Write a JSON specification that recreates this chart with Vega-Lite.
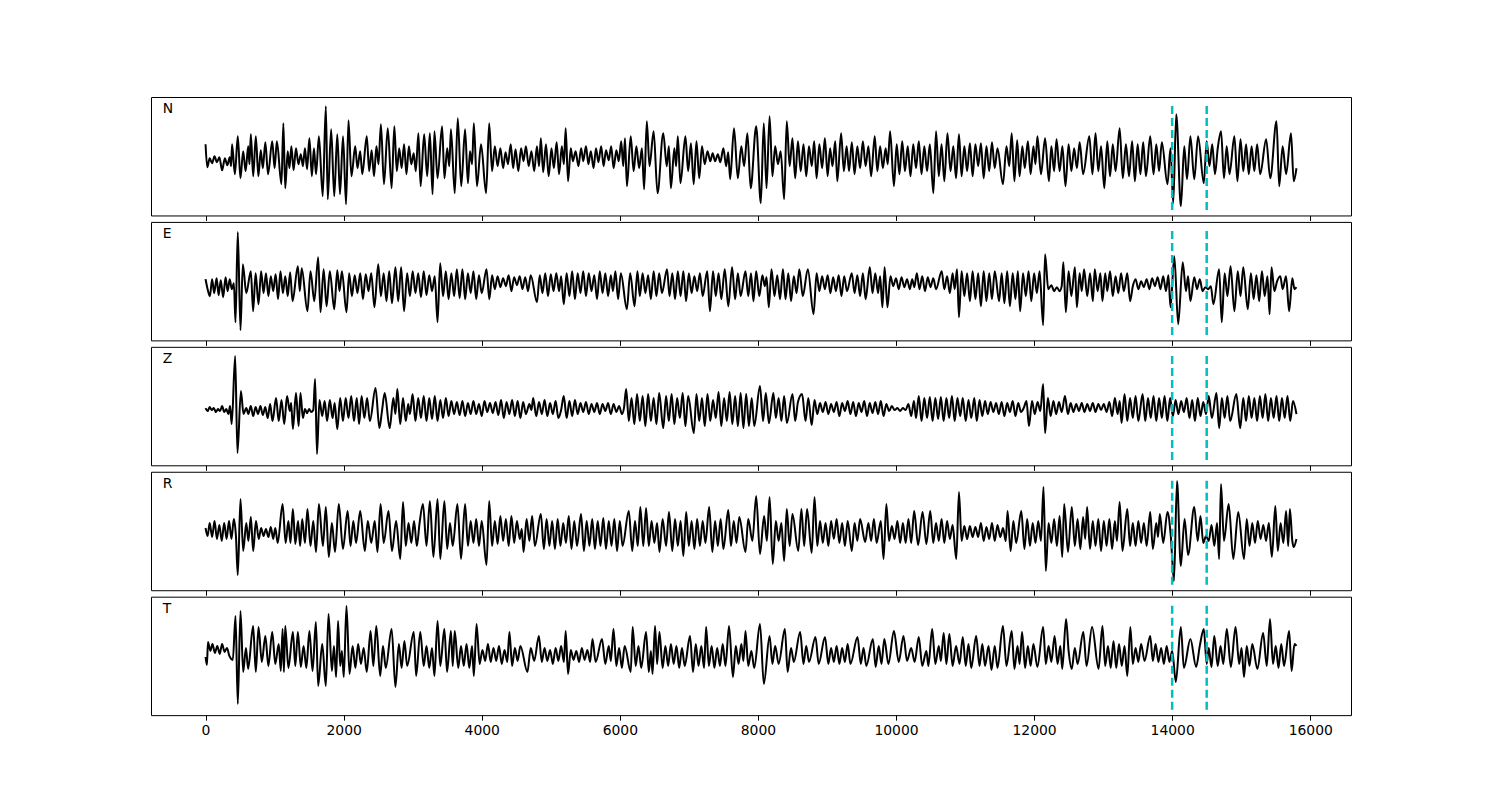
{
"$schema":"https://vega.github.io/schema/vega-lite/v6.json",
"padding":{"left":150,"top":96,"right":10,"bottom":10},
"background":"white",
"bounds":"flush",
"spacing":5.92,
"config":{"view":{"stroke":"black","strokeWidth":1},
"axisX":{"grid":false,"domain":false,"tickColor":"black","tickSize":5,"tickWidth":1,"labelFont":"DejaVu Sans","labelFontSize":13.9,"labelColor":"black","labelPadding":3,"labelFlush":false,"title":null}},
"datasets":{
"m":[{"v":14000},{"v":14500}],
"N":[{"x":0,"y":12},{"x":25,"y":-11},{"x":60,"y":-2},{"x":95,"y":-7},{"x":130,"y":0},{"x":165,"y":-6},{"x":200,"y":-1},{"x":240,"y":-14},{"x":280,"y":-2},{"x":315,"y":-9},{"x":350,"y":-1},{"x":370,"y":-10},{"x":384,"y":12},{"x":425,"y":-18},{"x":467,"y":20},{"x":505,"y":-22},{"x":545,"y":5},{"x":580,"y":-15},{"x":618,"y":10},{"x":636,"y":-8},{"x":656,"y":22},{"x":690,"y":-20},{"x":728,"y":20},{"x":765,"y":-20},{"x":800,"y":6},{"x":830,"y":-12},{"x":866,"y":14},{"x":905,"y":-18},{"x":966,"y":15},{"x":1000,"y":-12},{"x":1033,"y":15},{"x":1099,"y":-28},{"x":1127,"y":33},{"x":1154,"y":-32},{"x":1190,"y":5},{"x":1215,"y":-12},{"x":1243,"y":10},{"x":1275,"y":-14},{"x":1310,"y":8},{"x":1345,"y":-8},{"x":1380,"y":2},{"x":1410,"y":-10},{"x":1440,"y":8},{"x":1470,"y":-13},{"x":1504,"y":18},{"x":1540,"y":-20},{"x":1570,"y":8},{"x":1600,"y":-18},{"x":1642,"y":20},{"x":1697,"y":-40},{"x":1742,"y":50},{"x":1770,"y":-43},{"x":1819,"y":27},{"x":1864,"y":-40},{"x":1908,"y":22},{"x":1947,"y":-38},{"x":1991,"y":20},{"x":2035,"y":-48},{"x":2070,"y":36},{"x":2113,"y":-20},{"x":2168,"y":10},{"x":2200,"y":-12},{"x":2240,"y":5},{"x":2270,"y":-18},{"x":2335,"y":20},{"x":2370,"y":-15},{"x":2405,"y":6},{"x":2440,"y":-20},{"x":2475,"y":10},{"x":2505,"y":-8},{"x":2540,"y":32},{"x":2584,"y":-28},{"x":2639,"y":28},{"x":2695,"y":-32},{"x":2734,"y":30},{"x":2770,"y":-15},{"x":2805,"y":8},{"x":2840,"y":-12},{"x":2875,"y":12},{"x":2910,"y":-18},{"x":2945,"y":10},{"x":2980,"y":-8},{"x":3015,"y":3},{"x":3045,"y":-15},{"x":3083,"y":23},{"x":3115,"y":-30},{"x":3166,"y":22},{"x":3210,"y":-20},{"x":3249,"y":23},{"x":3288,"y":-38},{"x":3315,"y":25},{"x":3360,"y":-22},{"x":3426,"y":30},{"x":3460,"y":-22},{"x":3500,"y":8},{"x":3530,"y":-10},{"x":3554,"y":27},{"x":3609,"y":-37},{"x":3653,"y":38},{"x":3703,"y":-30},{"x":3759,"y":27},{"x":3800,"y":-27},{"x":3830,"y":5},{"x":3860,"y":-8},{"x":3886,"y":33},{"x":3931,"y":-30},{"x":3990,"y":12},{"x":4063,"y":-37},{"x":4108,"y":33},{"x":4150,"y":-15},{"x":4190,"y":10},{"x":4230,"y":-10},{"x":4270,"y":8},{"x":4310,"y":-12},{"x":4345,"y":4},{"x":4380,"y":-8},{"x":4420,"y":12},{"x":4455,"y":-12},{"x":4490,"y":7},{"x":4530,"y":-15},{"x":4570,"y":8},{"x":4605,"y":-5},{"x":4640,"y":10},{"x":4680,"y":-10},{"x":4720,"y":5},{"x":4760,"y":-15},{"x":4800,"y":10},{"x":4830,"y":-10},{"x":4856,"y":18},{"x":4890,"y":-16},{"x":4930,"y":12},{"x":4970,"y":-20},{"x":5010,"y":8},{"x":5045,"y":-12},{"x":5085,"y":14},{"x":5120,"y":-18},{"x":5160,"y":10},{"x":5190,"y":-8},{"x":5216,"y":28},{"x":5250,"y":-25},{"x":5290,"y":8},{"x":5320,"y":-5},{"x":5360,"y":5},{"x":5400,"y":-10},{"x":5440,"y":8},{"x":5470,"y":-5},{"x":5510,"y":10},{"x":5545,"y":-8},{"x":5580,"y":5},{"x":5620,"y":-12},{"x":5655,"y":8},{"x":5690,"y":-6},{"x":5730,"y":10},{"x":5765,"y":-10},{"x":5800,"y":6},{"x":5840,"y":-4},{"x":5875,"y":10},{"x":5910,"y":-12},{"x":5950,"y":6},{"x":5985,"y":-5},{"x":6020,"y":15},{"x":6050,"y":-10},{"x":6075,"y":18},{"x":6103,"y":-30},{"x":6158,"y":20},{"x":6200,"y":-15},{"x":6240,"y":10},{"x":6280,"y":-12},{"x":6320,"y":8},{"x":6352,"y":-33},{"x":6391,"y":35},{"x":6430,"y":-10},{"x":6490,"y":25},{"x":6546,"y":-37},{"x":6629,"y":23},{"x":6680,"y":-10},{"x":6710,"y":10},{"x":6740,"y":-32},{"x":6790,"y":8},{"x":6815,"y":-10},{"x":6840,"y":20},{"x":6878,"y":-27},{"x":6950,"y":20},{"x":6990,"y":-15},{"x":7030,"y":13},{"x":7070,"y":-28},{"x":7110,"y":15},{"x":7150,"y":-22},{"x":7190,"y":10},{"x":7230,"y":-8},{"x":7270,"y":5},{"x":7310,"y":-5},{"x":7345,"y":3},{"x":7380,"y":-5},{"x":7420,"y":2},{"x":7455,"y":-6},{"x":7500,"y":8},{"x":7540,"y":-10},{"x":7570,"y":4},{"x":7598,"y":-23},{"x":7654,"y":28},{"x":7709,"y":-22},{"x":7760,"y":10},{"x":7800,"y":-10},{"x":7848,"y":23},{"x":7895,"y":-32},{"x":7975,"y":30},{"x":8042,"y":-47},{"x":8085,"y":33},{"x":8125,"y":-32},{"x":8169,"y":40},{"x":8210,"y":-20},{"x":8250,"y":10},{"x":8290,"y":-8},{"x":8330,"y":5},{"x":8380,"y":-43},{"x":8418,"y":35},{"x":8460,"y":-10},{"x":8500,"y":18},{"x":8540,"y":-22},{"x":8580,"y":15},{"x":8620,"y":-15},{"x":8660,"y":12},{"x":8700,"y":-20},{"x":8740,"y":10},{"x":8780,"y":-10},{"x":8815,"y":15},{"x":8850,"y":-22},{"x":8890,"y":12},{"x":8930,"y":-12},{"x":8970,"y":18},{"x":9010,"y":-20},{"x":9045,"y":8},{"x":9080,"y":-10},{"x":9120,"y":15},{"x":9150,"y":-25},{"x":9205,"y":23},{"x":9245,"y":-15},{"x":9285,"y":10},{"x":9320,"y":-15},{"x":9360,"y":14},{"x":9400,"y":-18},{"x":9440,"y":10},{"x":9480,"y":-12},{"x":9520,"y":15},{"x":9560,"y":-10},{"x":9600,"y":10},{"x":9640,"y":-20},{"x":9692,"y":20},{"x":9730,"y":-15},{"x":9770,"y":10},{"x":9810,"y":-12},{"x":9850,"y":8},{"x":9880,"y":-8},{"x":9915,"y":25},{"x":9970,"y":-30},{"x":10010,"y":12},{"x":10050,"y":-18},{"x":10090,"y":15},{"x":10130,"y":-15},{"x":10170,"y":10},{"x":10210,"y":-20},{"x":10250,"y":12},{"x":10290,"y":-12},{"x":10330,"y":15},{"x":10370,"y":-18},{"x":10410,"y":10},{"x":10450,"y":-15},{"x":10490,"y":12},{"x":10541,"y":-37},{"x":10580,"y":25},{"x":10620,"y":-20},{"x":10660,"y":12},{"x":10700,"y":-25},{"x":10745,"y":23},{"x":10790,"y":-15},{"x":10830,"y":10},{"x":10870,"y":-22},{"x":10912,"y":22},{"x":10950,"y":-20},{"x":10990,"y":10},{"x":11030,"y":-15},{"x":11070,"y":13},{"x":11110,"y":-20},{"x":11150,"y":12},{"x":11190,"y":-10},{"x":11230,"y":13},{"x":11270,"y":-22},{"x":11310,"y":10},{"x":11350,"y":-15},{"x":11390,"y":14},{"x":11430,"y":-12},{"x":11470,"y":8},{"x":11549,"y":-28},{"x":11600,"y":10},{"x":11640,"y":-10},{"x":11676,"y":23},{"x":11715,"y":-25},{"x":11755,"y":16},{"x":11790,"y":-20},{"x":11830,"y":10},{"x":11865,"y":-12},{"x":11910,"y":15},{"x":11950,"y":-18},{"x":11990,"y":10},{"x":12020,"y":-8},{"x":12048,"y":20},{"x":12100,"y":-18},{"x":12159,"y":18},{"x":12215,"y":-25},{"x":12250,"y":10},{"x":12290,"y":-15},{"x":12325,"y":17},{"x":12370,"y":-15},{"x":12410,"y":10},{"x":12455,"y":-30},{"x":12500,"y":12},{"x":12540,"y":-15},{"x":12580,"y":8},{"x":12620,"y":-12},{"x":12660,"y":14},{"x":12710,"y":-18},{"x":12800,"y":20},{"x":12845,"y":-18},{"x":12890,"y":23},{"x":12930,"y":-15},{"x":12970,"y":10},{"x":13017,"y":-32},{"x":13060,"y":15},{"x":13100,"y":-20},{"x":13140,"y":12},{"x":13180,"y":-15},{"x":13239,"y":28},{"x":13285,"y":-22},{"x":13330,"y":12},{"x":13375,"y":-20},{"x":13420,"y":15},{"x":13460,"y":-25},{"x":13500,"y":12},{"x":13540,"y":-18},{"x":13580,"y":14},{"x":13620,"y":-20},{"x":13682,"y":20},{"x":13730,"y":-18},{"x":13770,"y":12},{"x":13810,"y":-15},{"x":13850,"y":14},{"x":13932,"y":-28},{"x":13975,"y":8},{"x":14015,"y":-47},{"x":14059,"y":42},{"x":14126,"y":-50},{"x":14175,"y":10},{"x":14215,"y":-23},{"x":14264,"y":20},{"x":14320,"y":-23},{"x":14375,"y":20},{"x":14458,"y":-27},{"x":14500,"y":15},{"x":14540,"y":-10},{"x":14580,"y":12},{"x":14620,"y":-18},{"x":14660,"y":8},{"x":14708,"y":25},{"x":14750,"y":-22},{"x":14790,"y":10},{"x":14830,"y":-18},{"x":14901,"y":20},{"x":14945,"y":-25},{"x":14990,"y":17},{"x":15030,"y":-15},{"x":15070,"y":12},{"x":15110,"y":-18},{"x":15150,"y":10},{"x":15190,"y":-15},{"x":15230,"y":12},{"x":15275,"y":-18},{"x":15361,"y":17},{"x":15420,"y":-22},{"x":15511,"y":35},{"x":15550,"y":-30},{"x":15600,"y":10},{"x":15650,"y":-18},{"x":15721,"y":23},{"x":15760,"y":-25},{"x":15800,"y":-12}],
"E":[{"x":0,"y":2},{"x":30,"y":-8},{"x":63,"y":-15},{"x":95,"y":2},{"x":125,"y":-12},{"x":160,"y":3},{"x":190,"y":-14},{"x":220,"y":1},{"x":255,"y":-16},{"x":290,"y":4},{"x":320,"y":-10},{"x":350,"y":2},{"x":380,"y":-8},{"x":410,"y":-2},{"x":434,"y":-41},{"x":467,"y":49},{"x":506,"y":-49},{"x":540,"y":17},{"x":590,"y":-12},{"x":656,"y":10},{"x":689,"y":-30},{"x":725,"y":8},{"x":767,"y":-23},{"x":805,"y":10},{"x":840,"y":-12},{"x":875,"y":8},{"x":910,"y":-15},{"x":945,"y":5},{"x":980,"y":-10},{"x":1015,"y":7},{"x":1050,"y":-18},{"x":1085,"y":10},{"x":1120,"y":-12},{"x":1155,"y":5},{"x":1190,"y":-15},{"x":1225,"y":9},{"x":1260,"y":-20},{"x":1337,"y":15},{"x":1365,"y":-10},{"x":1393,"y":13},{"x":1476,"y":-30},{"x":1520,"y":10},{"x":1575,"y":-20},{"x":1631,"y":24},{"x":1665,"y":-31},{"x":1710,"y":12},{"x":1753,"y":-25},{"x":1800,"y":10},{"x":1864,"y":-28},{"x":1908,"y":11},{"x":1940,"y":-10},{"x":1975,"y":10},{"x":2041,"y":-31},{"x":2080,"y":8},{"x":2120,"y":-15},{"x":2160,"y":6},{"x":2200,"y":-12},{"x":2240,"y":8},{"x":2280,"y":-18},{"x":2320,"y":7},{"x":2360,"y":-10},{"x":2400,"y":8},{"x":2446,"y":-26},{"x":2501,"y":17},{"x":2540,"y":-15},{"x":2580,"y":8},{"x":2620,"y":-20},{"x":2660,"y":10},{"x":2700,"y":-22},{"x":2750,"y":14},{"x":2790,"y":-20},{"x":2833,"y":14},{"x":2875,"y":-30},{"x":2920,"y":8},{"x":2960,"y":-15},{"x":3000,"y":10},{"x":3040,"y":-12},{"x":3080,"y":8},{"x":3120,"y":-16},{"x":3160,"y":10},{"x":3200,"y":-14},{"x":3240,"y":6},{"x":3280,"y":-10},{"x":3320,"y":5},{"x":3360,"y":-41},{"x":3398,"y":18},{"x":3440,"y":-15},{"x":3480,"y":10},{"x":3520,"y":-18},{"x":3560,"y":8},{"x":3600,"y":-15},{"x":3640,"y":12},{"x":3680,"y":-17},{"x":3720,"y":12},{"x":3760,"y":-18},{"x":3800,"y":8},{"x":3840,"y":-12},{"x":3880,"y":10},{"x":3920,"y":-18},{"x":3960,"y":6},{"x":4000,"y":-12},{"x":4069,"y":12},{"x":4110,"y":-18},{"x":4150,"y":6},{"x":4190,"y":-8},{"x":4230,"y":5},{"x":4270,"y":-6},{"x":4310,"y":3},{"x":4350,"y":-5},{"x":4390,"y":6},{"x":4430,"y":-10},{"x":4470,"y":4},{"x":4510,"y":-4},{"x":4550,"y":5},{"x":4590,"y":-8},{"x":4630,"y":4},{"x":4670,"y":-10},{"x":4710,"y":6},{"x":4800,"y":-21},{"x":4840,"y":6},{"x":4880,"y":-12},{"x":4920,"y":8},{"x":4960,"y":-15},{"x":5000,"y":7},{"x":5040,"y":-10},{"x":5080,"y":8},{"x":5120,"y":-10},{"x":5150,"y":5},{"x":5188,"y":-23},{"x":5230,"y":8},{"x":5270,"y":-15},{"x":5310,"y":10},{"x":5350,"y":-18},{"x":5390,"y":8},{"x":5430,"y":-12},{"x":5470,"y":10},{"x":5510,"y":-15},{"x":5550,"y":8},{"x":5590,"y":-10},{"x":5630,"y":6},{"x":5670,"y":-18},{"x":5710,"y":10},{"x":5750,"y":-12},{"x":5790,"y":8},{"x":5830,"y":-15},{"x":5870,"y":6},{"x":5900,"y":-10},{"x":5936,"y":10},{"x":5975,"y":-18},{"x":6015,"y":8},{"x":6102,"y":-28},{"x":6150,"y":8},{"x":6213,"y":-25},{"x":6255,"y":10},{"x":6290,"y":-15},{"x":6330,"y":8},{"x":6370,"y":-12},{"x":6410,"y":6},{"x":6450,"y":-18},{"x":6490,"y":10},{"x":6530,"y":-15},{"x":6570,"y":8},{"x":6610,"y":-12},{"x":6684,"y":12},{"x":6720,"y":-15},{"x":6760,"y":8},{"x":6800,"y":-18},{"x":6840,"y":10},{"x":6880,"y":-15},{"x":6920,"y":10},{"x":6960,"y":-20},{"x":7000,"y":8},{"x":7040,"y":-12},{"x":7080,"y":5},{"x":7120,"y":-10},{"x":7160,"y":8},{"x":7200,"y":-15},{"x":7266,"y":10},{"x":7305,"y":-30},{"x":7350,"y":10},{"x":7390,"y":-15},{"x":7430,"y":8},{"x":7470,"y":-18},{"x":7520,"y":12},{"x":7571,"y":-25},{"x":7626,"y":14},{"x":7670,"y":-18},{"x":7710,"y":8},{"x":7750,"y":-15},{"x":7820,"y":10},{"x":7860,"y":-15},{"x":7900,"y":8},{"x":7935,"y":-20},{"x":7975,"y":10},{"x":8020,"y":-15},{"x":8065,"y":6},{"x":8100,"y":-5},{"x":8125,"y":4},{"x":8158,"y":-26},{"x":8197,"y":12},{"x":8240,"y":-15},{"x":8280,"y":6},{"x":8320,"y":-18},{"x":8363,"y":12},{"x":8400,"y":-18},{"x":8440,"y":8},{"x":8480,"y":-20},{"x":8520,"y":5},{"x":8560,"y":-12},{"x":8600,"y":12},{"x":8650,"y":-15},{"x":8723,"y":12},{"x":8806,"y":-33},{"x":8850,"y":8},{"x":8890,"y":-10},{"x":8930,"y":5},{"x":8970,"y":-8},{"x":9010,"y":6},{"x":9050,"y":-12},{"x":9090,"y":4},{"x":9130,"y":-10},{"x":9170,"y":6},{"x":9210,"y":-15},{"x":9250,"y":5},{"x":9290,"y":-10},{"x":9360,"y":8},{"x":9400,"y":-12},{"x":9440,"y":6},{"x":9480,"y":-15},{"x":9520,"y":8},{"x":9560,"y":-18},{"x":9621,"y":14},{"x":9660,"y":-12},{"x":9700,"y":8},{"x":9740,"y":-12},{"x":9770,"y":5},{"x":9803,"y":-26},{"x":9835,"y":14},{"x":9876,"y":-26},{"x":9920,"y":5},{"x":9960,"y":-5},{"x":10000,"y":3},{"x":10040,"y":-8},{"x":10080,"y":4},{"x":10120,"y":-6},{"x":10160,"y":2},{"x":10200,"y":-8},{"x":10235,"y":2},{"x":10265,"y":-6},{"x":10302,"y":8},{"x":10340,"y":-8},{"x":10380,"y":5},{"x":10420,"y":-10},{"x":10460,"y":4},{"x":10500,"y":-6},{"x":10540,"y":3},{"x":10580,"y":-8},{"x":10662,"y":10},{"x":10700,"y":-8},{"x":10740,"y":5},{"x":10780,"y":-12},{"x":10820,"y":8},{"x":10850,"y":-8},{"x":10884,"y":12},{"x":10912,"y":-36},{"x":10950,"y":10},{"x":10990,"y":-15},{"x":11030,"y":8},{"x":11070,"y":-20},{"x":11110,"y":10},{"x":11150,"y":-18},{"x":11190,"y":8},{"x":11230,"y":-25},{"x":11270,"y":10},{"x":11310,"y":-20},{"x":11350,"y":8},{"x":11390,"y":-18},{"x":11430,"y":10},{"x":11494,"y":-20},{"x":11530,"y":8},{"x":11570,"y":-22},{"x":11610,"y":10},{"x":11650,"y":-25},{"x":11690,"y":8},{"x":11730,"y":-18},{"x":11765,"y":10},{"x":11798,"y":-30},{"x":11840,"y":8},{"x":11880,"y":-15},{"x":11920,"y":10},{"x":11960,"y":-20},{"x":12000,"y":8},{"x":12040,"y":-12},{"x":12080,"y":10},{"x":12131,"y":-44},{"x":12159,"y":27},{"x":12205,"y":-8},{"x":12250,"y":-4},{"x":12290,"y":-10},{"x":12330,"y":-6},{"x":12370,"y":-10},{"x":12400,"y":-5},{"x":12424,"y":19},{"x":12460,"y":-31},{"x":12500,"y":10},{"x":12540,"y":-15},{"x":12591,"y":14},{"x":12620,"y":-26},{"x":12660,"y":8},{"x":12690,"y":-10},{"x":12724,"y":12},{"x":12770,"y":-15},{"x":12810,"y":8},{"x":12851,"y":-20},{"x":12879,"y":12},{"x":12920,"y":-10},{"x":12960,"y":8},{"x":12990,"y":-20},{"x":13030,"y":8},{"x":13060,"y":-10},{"x":13100,"y":10},{"x":13140,"y":-15},{"x":13180,"y":5},{"x":13220,"y":-12},{"x":13260,"y":8},{"x":13300,"y":-10},{"x":13350,"y":8},{"x":13390,"y":-20},{"x":13430,"y":-5},{"x":13470,"y":2},{"x":13510,"y":-8},{"x":13550,"y":0},{"x":13590,"y":-6},{"x":13630,"y":2},{"x":13670,"y":-8},{"x":13710,"y":3},{"x":13750,"y":-5},{"x":13790,"y":4},{"x":13830,"y":-8},{"x":13870,"y":5},{"x":13910,"y":-10},{"x":13945,"y":6},{"x":13976,"y":-26},{"x":14031,"y":25},{"x":14087,"y":-43},{"x":14153,"y":19},{"x":14200,"y":-10},{"x":14230,"y":5},{"x":14264,"y":-20},{"x":14320,"y":4},{"x":14360,"y":-8},{"x":14400,"y":2},{"x":14440,"y":-10},{"x":14480,"y":-6},{"x":14520,"y":-8},{"x":14560,"y":-5},{"x":14597,"y":-23},{"x":14680,"y":12},{"x":14718,"y":-41},{"x":14760,"y":8},{"x":14800,"y":-15},{"x":14846,"y":15},{"x":14901,"y":-30},{"x":14950,"y":10},{"x":14990,"y":-15},{"x":15029,"y":14},{"x":15095,"y":-28},{"x":15140,"y":8},{"x":15180,"y":-18},{"x":15220,"y":6},{"x":15260,"y":-20},{"x":15300,"y":10},{"x":15340,"y":-15},{"x":15380,"y":5},{"x":15411,"y":-33},{"x":15439,"y":14},{"x":15480,"y":-10},{"x":15520,"y":0},{"x":15566,"y":5},{"x":15600,"y":-8},{"x":15649,"y":5},{"x":15694,"y":-30},{"x":15740,"y":3},{"x":15771,"y":-8},{"x":15800,"y":-6}],
"Z":[{"x":0,"y":-2},{"x":30,"y":-5},{"x":60,"y":-1},{"x":90,"y":-4},{"x":120,"y":-2},{"x":150,"y":-6},{"x":180,"y":-3},{"x":210,"y":-5},{"x":240,"y":0},{"x":270,"y":-6},{"x":300,"y":-3},{"x":330,"y":-8},{"x":355,"y":0},{"x":379,"y":-18},{"x":429,"y":50},{"x":462,"y":-47},{"x":512,"y":15},{"x":550,"y":-8},{"x":590,"y":-2},{"x":620,"y":-8},{"x":655,"y":0},{"x":690,"y":-10},{"x":725,"y":-1},{"x":760,"y":-8},{"x":795,"y":0},{"x":830,"y":-9},{"x":865,"y":-1},{"x":900,"y":-12},{"x":935,"y":2},{"x":970,"y":-15},{"x":1021,"y":8},{"x":1060,"y":-15},{"x":1100,"y":6},{"x":1140,"y":-18},{"x":1180,"y":10},{"x":1220,"y":-5},{"x":1240,"y":3},{"x":1265,"y":-23},{"x":1310,"y":13},{"x":1348,"y":-20},{"x":1375,"y":13},{"x":1410,"y":-12},{"x":1440,"y":-3},{"x":1470,"y":-7},{"x":1500,"y":-3},{"x":1530,"y":-6},{"x":1560,"y":-4},{"x":1587,"y":27},{"x":1614,"y":-48},{"x":1650,"y":6},{"x":1690,"y":-10},{"x":1725,"y":5},{"x":1760,"y":-15},{"x":1800,"y":6},{"x":1840,"y":-12},{"x":1870,"y":3},{"x":1908,"y":-23},{"x":1950,"y":8},{"x":1990,"y":-15},{"x":2030,"y":8},{"x":2070,"y":-12},{"x":2110,"y":10},{"x":2150,"y":-15},{"x":2190,"y":8},{"x":2224,"y":-18},{"x":2260,"y":10},{"x":2300,"y":-12},{"x":2340,"y":8},{"x":2380,"y":-15},{"x":2462,"y":18},{"x":2518,"y":-22},{"x":2555,"y":-5},{"x":2595,"y":13},{"x":2667,"y":-22},{"x":2720,"y":8},{"x":2750,"y":-8},{"x":2778,"y":17},{"x":2820,"y":-18},{"x":2860,"y":8},{"x":2900,"y":-15},{"x":2935,"y":2},{"x":2960,"y":-8},{"x":2999,"y":12},{"x":3040,"y":-15},{"x":3080,"y":8},{"x":3120,"y":-12},{"x":3160,"y":10},{"x":3200,"y":-15},{"x":3240,"y":8},{"x":3280,"y":-13},{"x":3320,"y":10},{"x":3360,"y":-15},{"x":3400,"y":6},{"x":3440,"y":-12},{"x":3480,"y":8},{"x":3520,"y":-10},{"x":3560,"y":5},{"x":3600,"y":-8},{"x":3640,"y":4},{"x":3680,"y":-9},{"x":3720,"y":5},{"x":3760,"y":-10},{"x":3800,"y":3},{"x":3840,"y":-8},{"x":3880,"y":5},{"x":3920,"y":-8},{"x":3960,"y":2},{"x":4000,"y":-10},{"x":4040,"y":5},{"x":4080,"y":-6},{"x":4120,"y":3},{"x":4160,"y":-7},{"x":4200,"y":4},{"x":4240,"y":-9},{"x":4280,"y":6},{"x":4320,"y":-12},{"x":4360,"y":4},{"x":4400,"y":-8},{"x":4440,"y":6},{"x":4480,"y":-10},{"x":4520,"y":5},{"x":4560,"y":-12},{"x":4600,"y":4},{"x":4640,"y":-8},{"x":4690,"y":2},{"x":4720,"y":-4},{"x":4745,"y":8},{"x":4790,"y":-10},{"x":4830,"y":4},{"x":4870,"y":-8},{"x":4910,"y":6},{"x":4950,"y":-10},{"x":4990,"y":3},{"x":5030,"y":-8},{"x":5070,"y":5},{"x":5110,"y":-12},{"x":5150,"y":-4},{"x":5188,"y":10},{"x":5230,"y":-12},{"x":5270,"y":5},{"x":5310,"y":-10},{"x":5350,"y":6},{"x":5390,"y":-8},{"x":5430,"y":3},{"x":5470,"y":-6},{"x":5510,"y":4},{"x":5550,"y":-8},{"x":5590,"y":2},{"x":5630,"y":-6},{"x":5670,"y":3},{"x":5710,"y":-8},{"x":5750,"y":2},{"x":5790,"y":-5},{"x":5830,"y":3},{"x":5870,"y":-8},{"x":5910,"y":2},{"x":5950,"y":-6},{"x":5990,"y":0},{"x":6030,"y":-8},{"x":6060,"y":-2},{"x":6092,"y":17},{"x":6130,"y":-15},{"x":6170,"y":8},{"x":6210,"y":-18},{"x":6250,"y":12},{"x":6290,"y":-15},{"x":6330,"y":10},{"x":6370,"y":-20},{"x":6410,"y":12},{"x":6450,"y":-15},{"x":6490,"y":8},{"x":6530,"y":-18},{"x":6570,"y":13},{"x":6629,"y":-22},{"x":6670,"y":10},{"x":6710,"y":-15},{"x":6750,"y":12},{"x":6790,"y":-18},{"x":6830,"y":8},{"x":6870,"y":-12},{"x":6910,"y":13},{"x":6950,"y":-20},{"x":6990,"y":10},{"x":7072,"y":-27},{"x":7110,"y":12},{"x":7150,"y":-15},{"x":7190,"y":8},{"x":7230,"y":-20},{"x":7270,"y":12},{"x":7310,"y":-15},{"x":7350,"y":6},{"x":7390,"y":-12},{"x":7430,"y":14},{"x":7470,"y":-20},{"x":7510,"y":8},{"x":7550,"y":-15},{"x":7590,"y":14},{"x":7630,"y":-18},{"x":7670,"y":10},{"x":7710,"y":-20},{"x":7750,"y":13},{"x":7790,"y":-22},{"x":7830,"y":12},{"x":7870,"y":-20},{"x":7910,"y":8},{"x":7947,"y":-20},{"x":8030,"y":20},{"x":8075,"y":-15},{"x":8114,"y":13},{"x":8160,"y":-17},{"x":8224,"y":13},{"x":8260,"y":-12},{"x":8300,"y":8},{"x":8340,"y":-15},{"x":8380,"y":10},{"x":8420,"y":-17},{"x":8501,"y":12},{"x":8540,"y":-15},{"x":8580,"y":4},{"x":8640,"y":12},{"x":8690,"y":-15},{"x":8730,"y":8},{"x":8779,"y":-19},{"x":8820,"y":6},{"x":8860,"y":-8},{"x":8900,"y":3},{"x":8940,"y":-6},{"x":8980,"y":4},{"x":9020,"y":-8},{"x":9060,"y":2},{"x":9100,"y":-6},{"x":9140,"y":4},{"x":9180,"y":-10},{"x":9220,"y":3},{"x":9260,"y":-5},{"x":9300,"y":5},{"x":9340,"y":-8},{"x":9380,"y":4},{"x":9420,"y":-10},{"x":9460,"y":3},{"x":9500,"y":-6},{"x":9540,"y":5},{"x":9580,"y":-10},{"x":9620,"y":3},{"x":9660,"y":-7},{"x":9700,"y":4},{"x":9740,"y":-8},{"x":9780,"y":5},{"x":9820,"y":-10},{"x":9860,"y":2},{"x":9900,"y":-5},{"x":9940,"y":0},{"x":9980,"y":-4},{"x":10020,"y":-2},{"x":10060,"y":-5},{"x":10100,"y":-2},{"x":10140,"y":-4},{"x":10180,"y":2},{"x":10220,"y":-10},{"x":10260,"y":5},{"x":10290,"y":-12},{"x":10330,"y":10},{"x":10370,"y":-15},{"x":10410,"y":8},{"x":10450,"y":-12},{"x":10490,"y":9},{"x":10530,"y":-15},{"x":10570,"y":8},{"x":10610,"y":-13},{"x":10650,"y":9},{"x":10690,"y":-15},{"x":10730,"y":8},{"x":10770,"y":-12},{"x":10810,"y":10},{"x":10850,"y":-15},{"x":10890,"y":8},{"x":10930,"y":-10},{"x":10967,"y":8},{"x":11010,"y":-15},{"x":11050,"y":6},{"x":11090,"y":-12},{"x":11134,"y":8},{"x":11170,"y":-15},{"x":11210,"y":6},{"x":11250,"y":-10},{"x":11290,"y":5},{"x":11330,"y":-8},{"x":11370,"y":4},{"x":11410,"y":-6},{"x":11450,"y":3},{"x":11490,"y":-8},{"x":11530,"y":4},{"x":11570,"y":-10},{"x":11610,"y":3},{"x":11650,"y":-6},{"x":11690,"y":5},{"x":11730,"y":-10},{"x":11770,"y":3},{"x":11810,"y":-6},{"x":11850,"y":-2},{"x":11890,"y":5},{"x":11926,"y":-20},{"x":11970,"y":5},{"x":12010,"y":-8},{"x":12050,"y":4},{"x":12090,"y":-5},{"x":12131,"y":22},{"x":12159,"y":-27},{"x":12200,"y":8},{"x":12240,"y":-10},{"x":12280,"y":5},{"x":12320,"y":-8},{"x":12360,"y":4},{"x":12400,"y":-6},{"x":12447,"y":10},{"x":12490,"y":-8},{"x":12530,"y":3},{"x":12570,"y":-6},{"x":12610,"y":2},{"x":12650,"y":-5},{"x":12690,"y":3},{"x":12730,"y":-6},{"x":12770,"y":2},{"x":12810,"y":-5},{"x":12850,"y":3},{"x":12890,"y":-6},{"x":12930,"y":2},{"x":12970,"y":-4},{"x":13010,"y":2},{"x":13050,"y":-6},{"x":13090,"y":4},{"x":13130,"y":-10},{"x":13170,"y":8},{"x":13210,"y":-8},{"x":13240,"y":5},{"x":13267,"y":-17},{"x":13310,"y":12},{"x":13350,"y":-15},{"x":13390,"y":8},{"x":13430,"y":-12},{"x":13470,"y":10},{"x":13510,"y":-15},{"x":13572,"y":12},{"x":13610,"y":-15},{"x":13650,"y":8},{"x":13690,"y":-12},{"x":13730,"y":10},{"x":13770,"y":-15},{"x":13810,"y":8},{"x":13850,"y":-12},{"x":13890,"y":10},{"x":13930,"y":-15},{"x":13970,"y":8},{"x":14010,"y":-10},{"x":14050,"y":6},{"x":14090,"y":-8},{"x":14130,"y":5},{"x":14170,"y":-6},{"x":14210,"y":8},{"x":14250,"y":-12},{"x":14290,"y":6},{"x":14330,"y":-15},{"x":14370,"y":8},{"x":14410,"y":-10},{"x":14450,"y":4},{"x":14490,"y":-8},{"x":14530,"y":10},{"x":14575,"y":-12},{"x":14641,"y":13},{"x":14680,"y":-22},{"x":14720,"y":8},{"x":14760,"y":-12},{"x":14800,"y":10},{"x":14840,"y":-15},{"x":14929,"y":12},{"x":14985,"y":-22},{"x":15030,"y":8},{"x":15070,"y":-15},{"x":15110,"y":10},{"x":15150,"y":-12},{"x":15190,"y":8},{"x":15230,"y":-15},{"x":15270,"y":10},{"x":15310,"y":-12},{"x":15350,"y":12},{"x":15390,"y":-15},{"x":15430,"y":8},{"x":15470,"y":-12},{"x":15511,"y":10},{"x":15550,"y":-15},{"x":15590,"y":8},{"x":15630,"y":-12},{"x":15670,"y":10},{"x":15710,"y":-15},{"x":15750,"y":5},{"x":15800,"y":-8}],
"R":[{"x":0,"y":3},{"x":30,"y":-5},{"x":60,"y":8},{"x":95,"y":-6},{"x":130,"y":10},{"x":165,"y":-8},{"x":200,"y":6},{"x":235,"y":-10},{"x":270,"y":8},{"x":305,"y":-8},{"x":340,"y":10},{"x":375,"y":-8},{"x":410,"y":12},{"x":440,"y":-5},{"x":467,"y":-44},{"x":506,"y":32},{"x":545,"y":-20},{"x":590,"y":8},{"x":620,"y":-10},{"x":656,"y":14},{"x":690,"y":-20},{"x":730,"y":10},{"x":770,"y":-8},{"x":805,"y":3},{"x":840,"y":-5},{"x":875,"y":2},{"x":910,"y":-6},{"x":945,"y":4},{"x":980,"y":-8},{"x":1010,"y":3},{"x":1045,"y":-12},{"x":1116,"y":27},{"x":1160,"y":-12},{"x":1200,"y":10},{"x":1230,"y":-12},{"x":1265,"y":22},{"x":1300,"y":-13},{"x":1340,"y":10},{"x":1370,"y":-15},{"x":1400,"y":12},{"x":1440,"y":-12},{"x":1476,"y":22},{"x":1520,"y":-15},{"x":1560,"y":10},{"x":1600,"y":-21},{"x":1642,"y":27},{"x":1700,"y":-15},{"x":1742,"y":24},{"x":1785,"y":-26},{"x":1830,"y":8},{"x":1875,"y":-21},{"x":1930,"y":27},{"x":1990,"y":-18},{"x":2058,"y":20},{"x":2100,"y":-15},{"x":2140,"y":10},{"x":2180,"y":-12},{"x":2240,"y":20},{"x":2307,"y":-20},{"x":2350,"y":10},{"x":2400,"y":-12},{"x":2450,"y":10},{"x":2490,"y":-21},{"x":2535,"y":27},{"x":2580,"y":-12},{"x":2650,"y":20},{"x":2700,"y":-20},{"x":2760,"y":10},{"x":2820,"y":-28},{"x":2860,"y":29},{"x":2900,"y":-15},{"x":2940,"y":8},{"x":2980,"y":-12},{"x":3020,"y":10},{"x":3060,"y":-15},{"x":3100,"y":8},{"x":3149,"y":27},{"x":3200,"y":-15},{"x":3249,"y":30},{"x":3300,"y":-26},{"x":3360,"y":32},{"x":3400,"y":-28},{"x":3459,"y":30},{"x":3500,"y":-18},{"x":3540,"y":8},{"x":3580,"y":-15},{"x":3648,"y":27},{"x":3700,"y":-28},{"x":3759,"y":27},{"x":3800,"y":-15},{"x":3840,"y":10},{"x":3880,"y":-12},{"x":3920,"y":12},{"x":3960,"y":-15},{"x":4000,"y":10},{"x":4069,"y":-34},{"x":4108,"y":30},{"x":4150,"y":-15},{"x":4190,"y":10},{"x":4230,"y":-13},{"x":4270,"y":15},{"x":4310,"y":-10},{"x":4350,"y":12},{"x":4390,"y":-15},{"x":4430,"y":15},{"x":4470,"y":-12},{"x":4510,"y":10},{"x":4550,"y":-8},{"x":4580,"y":2},{"x":4606,"y":-21},{"x":4650,"y":12},{"x":4690,"y":-10},{"x":4730,"y":15},{"x":4770,"y":-15},{"x":4856,"y":17},{"x":4900,"y":-18},{"x":4940,"y":12},{"x":4980,"y":-15},{"x":5020,"y":10},{"x":5060,"y":-18},{"x":5100,"y":12},{"x":5140,"y":-15},{"x":5180,"y":8},{"x":5220,"y":-12},{"x":5260,"y":15},{"x":5300,"y":-18},{"x":5340,"y":10},{"x":5380,"y":-15},{"x":5438,"y":17},{"x":5480,"y":-20},{"x":5520,"y":10},{"x":5560,"y":-15},{"x":5600,"y":12},{"x":5640,"y":-18},{"x":5680,"y":10},{"x":5720,"y":-15},{"x":5760,"y":13},{"x":5800,"y":-18},{"x":5840,"y":10},{"x":5880,"y":-15},{"x":5920,"y":12},{"x":5960,"y":-20},{"x":6000,"y":10},{"x":6040,"y":-15},{"x":6130,"y":20},{"x":6180,"y":-20},{"x":6220,"y":10},{"x":6260,"y":-15},{"x":6297,"y":24},{"x":6340,"y":-15},{"x":6380,"y":23},{"x":6420,"y":-15},{"x":6460,"y":10},{"x":6500,"y":-12},{"x":6540,"y":8},{"x":6574,"y":-21},{"x":6620,"y":12},{"x":6670,"y":-15},{"x":6712,"y":19},{"x":6760,"y":-20},{"x":6800,"y":12},{"x":6840,"y":-15},{"x":6880,"y":10},{"x":6920,"y":-25},{"x":6961,"y":19},{"x":7000,"y":-15},{"x":7040,"y":10},{"x":7080,"y":-18},{"x":7120,"y":12},{"x":7160,"y":-15},{"x":7200,"y":10},{"x":7240,"y":-12},{"x":7294,"y":24},{"x":7340,"y":-21},{"x":7380,"y":10},{"x":7420,"y":-15},{"x":7460,"y":12},{"x":7500,"y":-18},{"x":7571,"y":21},{"x":7610,"y":-15},{"x":7650,"y":10},{"x":7690,"y":-12},{"x":7730,"y":14},{"x":7820,"y":-21},{"x":7860,"y":12},{"x":7920,"y":-10},{"x":7975,"y":35},{"x":8030,"y":-23},{"x":8090,"y":15},{"x":8130,"y":-10},{"x":8169,"y":34},{"x":8215,"y":-33},{"x":8260,"y":10},{"x":8300,"y":-10},{"x":8340,"y":8},{"x":8380,"y":-30},{"x":8418,"y":22},{"x":8460,"y":-15},{"x":8500,"y":17},{"x":8585,"y":-20},{"x":8630,"y":22},{"x":8670,"y":-15},{"x":8712,"y":22},{"x":8779,"y":-22},{"x":8820,"y":34},{"x":8860,"y":-15},{"x":8900,"y":10},{"x":8940,"y":-12},{"x":8980,"y":8},{"x":9020,"y":-15},{"x":9060,"y":10},{"x":9100,"y":-8},{"x":9140,"y":12},{"x":9180,"y":-12},{"x":9220,"y":8},{"x":9260,"y":-15},{"x":9300,"y":10},{"x":9360,"y":-20},{"x":9400,"y":8},{"x":9440,"y":-10},{"x":9480,"y":12},{"x":9554,"y":-11},{"x":9600,"y":8},{"x":9640,"y":-10},{"x":9680,"y":12},{"x":9720,"y":-12},{"x":9780,"y":10},{"x":9820,"y":-28},{"x":9860,"y":27},{"x":9900,"y":-10},{"x":9940,"y":5},{"x":9980,"y":-8},{"x":10020,"y":10},{"x":10060,"y":-12},{"x":10100,"y":8},{"x":10140,"y":-12},{"x":10180,"y":12},{"x":10220,"y":-12},{"x":10263,"y":20},{"x":10320,"y":-14},{"x":10385,"y":19},{"x":10440,"y":-13},{"x":10496,"y":20},{"x":10540,"y":-12},{"x":10580,"y":8},{"x":10620,"y":-10},{"x":10660,"y":12},{"x":10700,"y":-12},{"x":10740,"y":10},{"x":10780,"y":-8},{"x":10820,"y":6},{"x":10873,"y":-28},{"x":10912,"y":39},{"x":10950,"y":-10},{"x":10990,"y":5},{"x":11030,"y":-8},{"x":11070,"y":5},{"x":11110,"y":-6},{"x":11150,"y":4},{"x":11190,"y":-6},{"x":11230,"y":8},{"x":11270,"y":-10},{"x":11310,"y":4},{"x":11350,"y":-8},{"x":11390,"y":8},{"x":11430,"y":-10},{"x":11470,"y":6},{"x":11510,"y":-6},{"x":11550,"y":3},{"x":11590,"y":-10},{"x":11616,"y":20},{"x":11660,"y":-20},{"x":11700,"y":10},{"x":11740,"y":-12},{"x":11815,"y":20},{"x":11860,"y":-18},{"x":11900,"y":12},{"x":11940,"y":-15},{"x":11980,"y":8},{"x":12020,"y":-12},{"x":12060,"y":10},{"x":12100,"y":-10},{"x":12136,"y":44},{"x":12170,"y":-40},{"x":12210,"y":8},{"x":12250,"y":-12},{"x":12290,"y":12},{"x":12330,"y":-15},{"x":12370,"y":15},{"x":12408,"y":-26},{"x":12436,"y":27},{"x":12491,"y":-21},{"x":12546,"y":24},{"x":12590,"y":-15},{"x":12630,"y":12},{"x":12670,"y":-18},{"x":12710,"y":14},{"x":12740,"y":-8},{"x":12768,"y":24},{"x":12810,"y":-18},{"x":12850,"y":10},{"x":12890,"y":-15},{"x":12930,"y":12},{"x":12970,"y":-20},{"x":13010,"y":10},{"x":13050,"y":-15},{"x":13090,"y":12},{"x":13130,"y":-18},{"x":13170,"y":10},{"x":13200,"y":-10},{"x":13239,"y":29},{"x":13280,"y":-20},{"x":13350,"y":22},{"x":13390,"y":-15},{"x":13430,"y":8},{"x":13470,"y":-15},{"x":13510,"y":10},{"x":13550,"y":-12},{"x":13590,"y":8},{"x":13630,"y":-15},{"x":13682,"y":19},{"x":13720,"y":-18},{"x":13770,"y":8},{"x":13795,"y":-6},{"x":13821,"y":17},{"x":13870,"y":-12},{"x":13932,"y":19},{"x":13980,"y":-5},{"x":14026,"y":-50},{"x":14070,"y":50},{"x":14125,"y":-35},{"x":14180,"y":12},{"x":14230,"y":-24},{"x":14320,"y":24},{"x":14370,"y":-10},{"x":14410,"y":15},{"x":14450,"y":-12},{"x":14490,"y":-5},{"x":14530,"y":-10},{"x":14570,"y":6},{"x":14610,"y":-15},{"x":14650,"y":8},{"x":14680,"y":-28},{"x":14707,"y":47},{"x":14750,"y":-10},{"x":14818,"y":27},{"x":14885,"y":-28},{"x":14957,"y":19},{"x":15040,"y":-28},{"x":15080,"y":12},{"x":15120,"y":-15},{"x":15160,"y":8},{"x":15200,"y":-12},{"x":15240,"y":10},{"x":15280,"y":-8},{"x":15320,"y":6},{"x":15360,"y":-10},{"x":15400,"y":8},{"x":15444,"y":-26},{"x":15494,"y":25},{"x":15530,"y":-20},{"x":15570,"y":8},{"x":15610,"y":-12},{"x":15650,"y":20},{"x":15680,"y":-15},{"x":15705,"y":22},{"x":15740,"y":-10},{"x":15760,"y":-16},{"x":15800,"y":-8}],
"T":[{"x":0,"y":-1},{"x":20,"y":-9},{"x":35,"y":14},{"x":70,"y":5},{"x":100,"y":12},{"x":135,"y":3},{"x":170,"y":10},{"x":205,"y":2},{"x":240,"y":12},{"x":275,"y":4},{"x":310,"y":8},{"x":345,"y":0},{"x":395,"y":-4},{"x":434,"y":40},{"x":467,"y":-48},{"x":506,"y":45},{"x":545,"y":-16},{"x":585,"y":8},{"x":617,"y":-13},{"x":689,"y":30},{"x":728,"y":-16},{"x":767,"y":29},{"x":815,"y":-6},{"x":866,"y":20},{"x":910,"y":-10},{"x":966,"y":24},{"x":1010,"y":-8},{"x":1060,"y":12},{"x":1090,"y":-15},{"x":1116,"y":27},{"x":1135,"y":-16},{"x":1154,"y":30},{"x":1200,"y":-12},{"x":1265,"y":24},{"x":1300,"y":-10},{"x":1337,"y":24},{"x":1380,"y":-11},{"x":1420,"y":10},{"x":1460,"y":-12},{"x":1504,"y":25},{"x":1550,"y":-15},{"x":1598,"y":34},{"x":1631,"y":-30},{"x":1690,"y":12},{"x":1742,"y":-30},{"x":1781,"y":42},{"x":1830,"y":-15},{"x":1860,"y":10},{"x":1891,"y":-21},{"x":1919,"y":35},{"x":1950,"y":-10},{"x":1975,"y":5},{"x":2002,"y":-21},{"x":2041,"y":50},{"x":2085,"y":-18},{"x":2130,"y":10},{"x":2170,"y":-12},{"x":2210,"y":12},{"x":2250,"y":-8},{"x":2290,"y":8},{"x":2335,"y":-16},{"x":2390,"y":25},{"x":2430,"y":-10},{"x":2473,"y":30},{"x":2529,"y":-20},{"x":2570,"y":10},{"x":2610,"y":-12},{"x":2695,"y":27},{"x":2750,"y":-31},{"x":2800,"y":12},{"x":2840,"y":-12},{"x":2880,"y":15},{"x":2920,"y":-10},{"x":3016,"y":24},{"x":3050,"y":-20},{"x":3110,"y":24},{"x":3160,"y":-10},{"x":3200,"y":10},{"x":3240,"y":-12},{"x":3280,"y":8},{"x":3315,"y":-20},{"x":3360,"y":35},{"x":3400,"y":-10},{"x":3459,"y":27},{"x":3498,"y":-16},{"x":3554,"y":25},{"x":3580,"y":-10},{"x":3609,"y":25},{"x":3660,"y":-12},{"x":3700,"y":10},{"x":3740,"y":-10},{"x":3780,"y":12},{"x":3820,"y":-12},{"x":3860,"y":10},{"x":3886,"y":-20},{"x":3925,"y":32},{"x":3970,"y":-8},{"x":4010,"y":6},{"x":4050,"y":-5},{"x":4090,"y":12},{"x":4130,"y":-6},{"x":4170,"y":8},{"x":4210,"y":-5},{"x":4250,"y":10},{"x":4290,"y":-8},{"x":4330,"y":6},{"x":4370,"y":-6},{"x":4401,"y":24},{"x":4440,"y":-10},{"x":4480,"y":8},{"x":4520,"y":-5},{"x":4560,"y":10},{"x":4662,"y":-16},{"x":4710,"y":8},{"x":4760,"y":-5},{"x":4828,"y":20},{"x":4870,"y":-6},{"x":4910,"y":8},{"x":4950,"y":-5},{"x":4990,"y":6},{"x":5030,"y":-8},{"x":5070,"y":8},{"x":5110,"y":-5},{"x":5150,"y":10},{"x":5190,"y":-6},{"x":5216,"y":25},{"x":5250,"y":-18},{"x":5290,"y":6},{"x":5330,"y":-4},{"x":5370,"y":5},{"x":5410,"y":-6},{"x":5450,"y":8},{"x":5490,"y":-4},{"x":5530,"y":6},{"x":5570,"y":-6},{"x":5604,"y":17},{"x":5650,"y":-6},{"x":5742,"y":17},{"x":5790,"y":-8},{"x":5840,"y":10},{"x":5870,"y":-5},{"x":5908,"y":27},{"x":5950,"y":-10},{"x":5990,"y":8},{"x":6030,"y":-12},{"x":6070,"y":10},{"x":6158,"y":-16},{"x":6186,"y":29},{"x":6230,"y":-10},{"x":6270,"y":10},{"x":6310,"y":-12},{"x":6380,"y":24},{"x":6420,"y":-16},{"x":6450,"y":5},{"x":6474,"y":-18},{"x":6510,"y":30},{"x":6540,"y":-8},{"x":6574,"y":24},{"x":6620,"y":-12},{"x":6660,"y":10},{"x":6700,"y":-10},{"x":6740,"y":12},{"x":6780,"y":-8},{"x":6820,"y":10},{"x":6860,"y":-12},{"x":6900,"y":8},{"x":6940,"y":-10},{"x":7017,"y":20},{"x":7060,"y":-16},{"x":7100,"y":12},{"x":7140,"y":-10},{"x":7180,"y":10},{"x":7220,"y":-12},{"x":7250,"y":29},{"x":7290,"y":-10},{"x":7330,"y":10},{"x":7370,"y":-12},{"x":7410,"y":8},{"x":7450,"y":-10},{"x":7490,"y":12},{"x":7530,"y":-10},{"x":7582,"y":30},{"x":7638,"y":-21},{"x":7680,"y":10},{"x":7720,"y":-8},{"x":7760,"y":12},{"x":7790,"y":-5},{"x":7820,"y":25},{"x":7860,"y":-10},{"x":7905,"y":5},{"x":7947,"y":-12},{"x":8030,"y":32},{"x":8086,"y":-28},{"x":8169,"y":20},{"x":8210,"y":-8},{"x":8250,"y":10},{"x":8300,"y":-8},{"x":8391,"y":27},{"x":8430,"y":-16},{"x":8480,"y":8},{"x":8520,"y":-6},{"x":8612,"y":24},{"x":8660,"y":-8},{"x":8700,"y":10},{"x":8740,"y":-6},{"x":8834,"y":19},{"x":8880,"y":-8},{"x":8972,"y":19},{"x":9020,"y":-8},{"x":9060,"y":8},{"x":9100,"y":-6},{"x":9140,"y":10},{"x":9180,"y":-8},{"x":9220,"y":8},{"x":9260,"y":-6},{"x":9300,"y":12},{"x":9340,"y":-8},{"x":9443,"y":19},{"x":9490,"y":-8},{"x":9530,"y":8},{"x":9570,"y":-10},{"x":9665,"y":17},{"x":9705,"y":-11},{"x":9750,"y":10},{"x":9790,"y":-8},{"x":9831,"y":17},{"x":9890,"y":-8},{"x":9970,"y":25},{"x":10040,"y":-6},{"x":10108,"y":20},{"x":10160,"y":-5},{"x":10220,"y":8},{"x":10270,"y":-6},{"x":10330,"y":19},{"x":10380,"y":-10},{"x":10440,"y":5},{"x":10469,"y":-10},{"x":10524,"y":27},{"x":10570,"y":-8},{"x":10620,"y":10},{"x":10650,"y":-5},{"x":10690,"y":23},{"x":10730,"y":-8},{"x":10773,"y":22},{"x":10820,"y":-10},{"x":10870,"y":10},{"x":10920,"y":-8},{"x":10967,"y":19},{"x":11010,"y":-10},{"x":11050,"y":12},{"x":11090,"y":-12},{"x":11161,"y":20},{"x":11210,"y":-10},{"x":11250,"y":12},{"x":11290,"y":-10},{"x":11340,"y":10},{"x":11383,"y":-14},{"x":11430,"y":10},{"x":11470,"y":-12},{"x":11549,"y":30},{"x":11600,"y":-10},{"x":11676,"y":25},{"x":11715,"y":-13},{"x":11760,"y":10},{"x":11790,"y":-8},{"x":11826,"y":24},{"x":11870,"y":-12},{"x":11910,"y":10},{"x":11950,"y":-10},{"x":11990,"y":12},{"x":12048,"y":-11},{"x":12131,"y":29},{"x":12170,"y":-8},{"x":12210,"y":10},{"x":12250,"y":-6},{"x":12297,"y":20},{"x":12340,"y":-8},{"x":12380,"y":10},{"x":12408,"y":-13},{"x":12463,"y":37},{"x":12500,"y":5},{"x":12546,"y":-13},{"x":12590,"y":8},{"x":12630,"y":-8},{"x":12713,"y":24},{"x":12760,"y":-10},{"x":12840,"y":29},{"x":12934,"y":-13},{"x":12990,"y":30},{"x":13030,"y":-10},{"x":13070,"y":10},{"x":13110,"y":-12},{"x":13150,"y":15},{"x":13190,"y":-12},{"x":13230,"y":12},{"x":13270,"y":-10},{"x":13310,"y":10},{"x":13350,"y":-20},{"x":13394,"y":29},{"x":13430,"y":-8},{"x":13470,"y":8},{"x":13510,"y":-6},{"x":13550,"y":12},{"x":13600,"y":-5},{"x":13682,"y":20},{"x":13720,"y":-5},{"x":13760,"y":12},{"x":13800,"y":-6},{"x":13840,"y":8},{"x":13880,"y":-8},{"x":13920,"y":10},{"x":13960,"y":-6},{"x":14000,"y":5},{"x":14053,"y":-26},{"x":14125,"y":29},{"x":14170,"y":-12},{"x":14264,"y":17},{"x":14347,"y":-11},{"x":14400,"y":10},{"x":14458,"y":27},{"x":14500,"y":-8},{"x":14530,"y":8},{"x":14569,"y":-11},{"x":14610,"y":20},{"x":14660,"y":-10},{"x":14700,"y":10},{"x":14740,"y":-8},{"x":14791,"y":27},{"x":14850,"y":-11},{"x":14918,"y":29},{"x":14970,"y":-8},{"x":15005,"y":8},{"x":15040,"y":-21},{"x":15080,"y":10},{"x":15120,"y":-10},{"x":15160,"y":12},{"x":15234,"y":-13},{"x":15317,"y":23},{"x":15370,"y":-10},{"x":15417,"y":37},{"x":15460,"y":-8},{"x":15500,"y":10},{"x":15540,"y":-12},{"x":15580,"y":12},{"x":15620,"y":-10},{"x":15694,"y":25},{"x":15730,"y":-15},{"x":15771,"y":12},{"x":15800,"y":10}]
},
"vconcat":[
{"width":1200,"height":118.46,"layer":[
{"data":{"name":"N"},"mark":{"type":"line","color":"black","strokeWidth":2,"interpolate":"monotone"},"encoding":{"x":{"field":"x","type":"quantitative","scale":{"domain":[-790,16590],"nice":false,"zero":false},"axis":{"labels":false,"values":[0,2000,4000,6000,8000,10000,12000,14000,16000]}},"y":{"field":"y","type":"quantitative","scale":{"domain":[-59.2,59.2],"nice":false,"zero":false},"axis":null}}},
{"data":{"name":"m"},"mark":{"type":"rule","color":"#00BFBF","strokeWidth":2.5,"strokeDash":[8,4]},"encoding":{"x":{"field":"v","type":"quantitative"},"y":{"datum":-53.8},"y2":{"datum":53.8}}},
{"data":{"values":[{"t":"N"}]},"mark":{"type":"text","align":"left","baseline":"middle","font":"DejaVu Sans","fontSize":13.9,"color":"black"},"encoding":{"text":{"field":"t"},"x":{"datum":-620},"y":{"datum":47}}}]},
{"width":1200,"height":118.46,"layer":[
{"data":{"name":"E"},"mark":{"type":"line","color":"black","strokeWidth":2,"interpolate":"monotone"},"encoding":{"x":{"field":"x","type":"quantitative","scale":{"domain":[-790,16590],"nice":false,"zero":false},"axis":{"labels":false,"values":[0,2000,4000,6000,8000,10000,12000,14000,16000]}},"y":{"field":"y","type":"quantitative","scale":{"domain":[-59.2,59.2],"nice":false,"zero":false},"axis":null}}},
{"data":{"name":"m"},"mark":{"type":"rule","color":"#00BFBF","strokeWidth":2.5,"strokeDash":[8,4]},"encoding":{"x":{"field":"v","type":"quantitative"},"y":{"datum":-53.8},"y2":{"datum":53.8}}},
{"data":{"values":[{"t":"E"}]},"mark":{"type":"text","align":"left","baseline":"middle","font":"DejaVu Sans","fontSize":13.9,"color":"black"},"encoding":{"text":{"field":"t"},"x":{"datum":-620},"y":{"datum":47}}}]},
{"width":1200,"height":118.46,"layer":[
{"data":{"name":"Z"},"mark":{"type":"line","color":"black","strokeWidth":2,"interpolate":"monotone"},"encoding":{"x":{"field":"x","type":"quantitative","scale":{"domain":[-790,16590],"nice":false,"zero":false},"axis":{"labels":false,"values":[0,2000,4000,6000,8000,10000,12000,14000,16000]}},"y":{"field":"y","type":"quantitative","scale":{"domain":[-59.2,59.2],"nice":false,"zero":false},"axis":null}}},
{"data":{"name":"m"},"mark":{"type":"rule","color":"#00BFBF","strokeWidth":2.5,"strokeDash":[8,4]},"encoding":{"x":{"field":"v","type":"quantitative"},"y":{"datum":-53.8},"y2":{"datum":53.8}}},
{"data":{"values":[{"t":"Z"}]},"mark":{"type":"text","align":"left","baseline":"middle","font":"DejaVu Sans","fontSize":13.9,"color":"black"},"encoding":{"text":{"field":"t"},"x":{"datum":-620},"y":{"datum":47}}}]},
{"width":1200,"height":118.46,"layer":[
{"data":{"name":"R"},"mark":{"type":"line","color":"black","strokeWidth":2,"interpolate":"monotone"},"encoding":{"x":{"field":"x","type":"quantitative","scale":{"domain":[-790,16590],"nice":false,"zero":false},"axis":{"labels":false,"values":[0,2000,4000,6000,8000,10000,12000,14000,16000]}},"y":{"field":"y","type":"quantitative","scale":{"domain":[-59.2,59.2],"nice":false,"zero":false},"axis":null}}},
{"data":{"name":"m"},"mark":{"type":"rule","color":"#00BFBF","strokeWidth":2.5,"strokeDash":[8,4]},"encoding":{"x":{"field":"v","type":"quantitative"},"y":{"datum":-53.8},"y2":{"datum":53.8}}},
{"data":{"values":[{"t":"R"}]},"mark":{"type":"text","align":"left","baseline":"middle","font":"DejaVu Sans","fontSize":13.9,"color":"black"},"encoding":{"text":{"field":"t"},"x":{"datum":-620},"y":{"datum":47}}}]},
{"width":1200,"height":118.46,"layer":[
{"data":{"name":"T"},"mark":{"type":"line","color":"black","strokeWidth":2,"interpolate":"monotone"},"encoding":{"x":{"field":"x","type":"quantitative","scale":{"domain":[-790,16590],"nice":false,"zero":false},"axis":{"labels":true,"format":"d","values":[0,2000,4000,6000,8000,10000,12000,14000,16000]}},"y":{"field":"y","type":"quantitative","scale":{"domain":[-59.2,59.2],"nice":false,"zero":false},"axis":null}}},
{"data":{"name":"m"},"mark":{"type":"rule","color":"#00BFBF","strokeWidth":2.5,"strokeDash":[8,4]},"encoding":{"x":{"field":"v","type":"quantitative"},"y":{"datum":-53.8},"y2":{"datum":53.8}}},
{"data":{"values":[{"t":"T"}]},"mark":{"type":"text","align":"left","baseline":"middle","font":"DejaVu Sans","fontSize":13.9,"color":"black"},"encoding":{"text":{"field":"t"},"x":{"datum":-620},"y":{"datum":47}}}]}
]
}
